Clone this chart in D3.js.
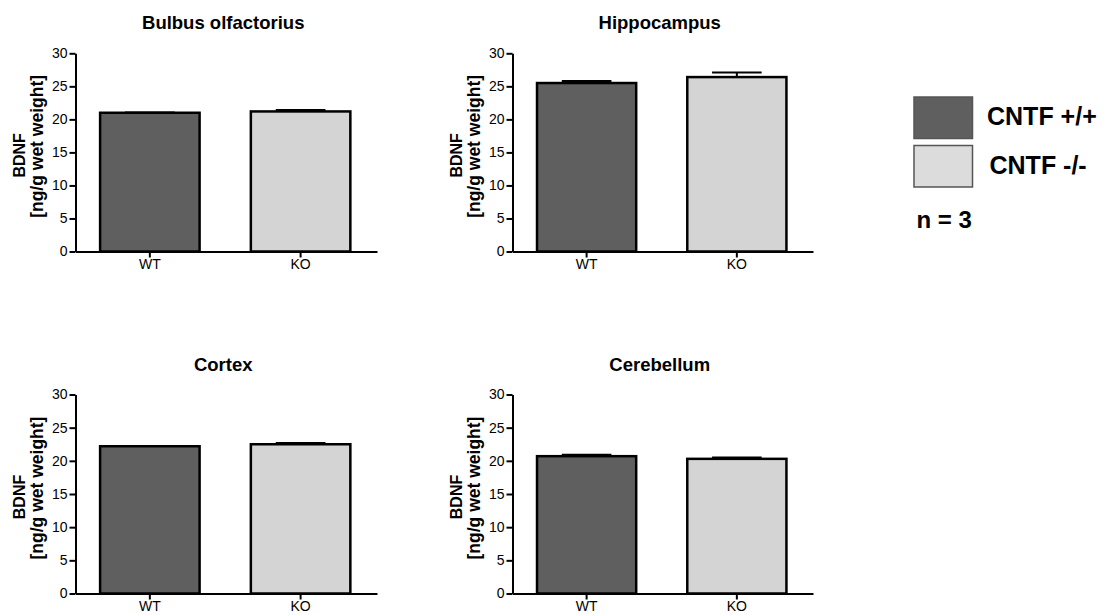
<!DOCTYPE html>
<html>
<head>
<meta charset="utf-8">
<script src="https://cdn.jsdelivr.net/npm/d3@7"></script>
<style>
  body { margin: 0; background: #fff; }
  svg text { font-family: "Liberation Sans", Arial, sans-serif; fill: #000; }
  .axis path, .axis line { stroke: #000; stroke-width: 2; }
  .axis text { font-size: 14px; }
  .title { font-size: 18.5px; font-weight: bold; text-anchor: middle; }
  .ylab { font-weight: bold; text-anchor: middle; }
</style>
</head>
<body>
<div id="chart"></div>
<script>
// brain regions, one panel each
const regions = ["Bulbus olfactorius", "Hippocampus", "Cortex", "Cerebellum"];
const genotypes = ["WT", "KO"];
// BDNF [ng/g wet weight], mean and SEM
const wtMean = [21.0, 25.5, 22.2, 20.7];
const wtSem  = [0.05, 0.3, 0.05, 0.2];
const koMean = [21.2, 26.4, 22.5, 20.3];
const koSem  = [0.2, 0.7, 0.2, 0.2];
const yTicks = [0, 5, 10, 15, 20, 25, 30];
const legendLabels = ["CNTF +/+", "CNTF -/-"];
const nLabel = "n = 3";

const colors = ["#5f5f5f", "#d4d4d4"];

const w = 1110, h = 615;
// where each panel's plot area sits
const panels = [
  { left: 75.5, right: 377, top: 53.3, bottom: 251.5, titleY: 29 },
  { left: 512.5, right: 813, top: 53.3, bottom: 251.5, titleY: 29 },
  { left: 75.5, right: 377, top: 394.5, bottom: 593.5, titleY: 370.5 },
  { left: 512.5, right: 813, top: 394.5, bottom: 593.5, titleY: 370.5 }
];

const svg = d3.select("#chart").append("svg")
  .attr("width", w)
  .attr("height", h);

regions.forEach(function(region, i) {
  const p = panels[i];
  const rows = genotypes.map(function(g, j) {
    return {
      g: g,
      mean: j === 0 ? wtMean[i] : koMean[i],
      sem: j === 0 ? wtSem[i] : koSem[i],
      color: colors[j]
    };
  });

  const x = d3.scaleBand()
    .domain(genotypes)
    .range([p.left, p.right])
    .paddingInner(0.34)
    .paddingOuter(0.17)
    .align(0.48);
  const y = d3.scaleLinear()
    .domain([0, 30])
    .range([p.bottom, p.top]);

  const g = svg.append("g");

  // title
  g.append("text")
    .attr("class", "title")
    .attr("x", (x("WT") + x("KO") + x.bandwidth()) / 2 - 2)
    .attr("y", p.titleY)
    .text(region);

  // bars
  g.selectAll(".bar")
    .data(rows)
    .enter()
    .append("rect")
      .attr("class", "bar")
      .attr("x", d => x(d.g))
      .attr("y", d => y(d.mean))
      .attr("width", x.bandwidth())
      .attr("height", d => y(0) - y(d.mean))
      .style("fill", d => d.color)
      .style("stroke", "#000")
      .style("stroke-width", 2.5);

  // error bars (upper SEM only)
  const eb = g.selectAll(".err")
    .data(rows)
    .enter()
    .append("g")
      .attr("class", "err");
  eb.append("line")
    .attr("x1", d => x(d.g) + x.bandwidth() / 2)
    .attr("x2", d => x(d.g) + x.bandwidth() / 2)
    .attr("y1", d => y(d.mean))
    .attr("y2", d => y(d.mean + d.sem))
    .style("stroke", "#000")
    .style("stroke-width", 2);
  eb.append("line")
    .attr("x1", d => x(d.g) + x.bandwidth() / 4)
    .attr("x2", d => x(d.g) + x.bandwidth() * 3 / 4)
    .attr("y1", d => y(d.mean + d.sem))
    .attr("y2", d => y(d.mean + d.sem))
    .style("stroke", "#000")
    .style("stroke-width", 2);

  // axes
  g.append("g")
    .attr("class", "axis")
    .attr("transform", "translate(0," + y(0) + ")")
    .call(d3.axisBottom(x).tickSize(6).tickSizeOuter(0).tickPadding(2));
  g.append("g")
    .attr("class", "axis")
    .attr("transform", "translate(" + p.left + ",0)")
    .call(d3.axisLeft(y).tickValues(yTicks).tickSize(6).tickSizeOuter(0).tickPadding(2));

  // y label, two lines
  const cy = (p.top + p.bottom) / 2;
  g.append("text")
    .attr("class", "ylab")
    .style("font-size", "16px")
    .attr("transform", "translate(" + (p.left - 50.5) + "," + (cy + 3) + ") rotate(-90)")
    .text("BDNF");
  g.append("text")
    .attr("class", "ylab")
    .style("font-size", "17.5px")
    .attr("transform", "translate(" + (p.left - 33) + "," + (cy - 6) + ") rotate(-90)")
    .text("[ng/g wet weight]");
});

// legend
const legend = svg.append("g").attr("transform", "translate(914,97)");
legend.selectAll("rect")
  .data(legendLabels)
  .enter()
  .append("rect")
    .attr("x", 0)
    .attr("y", (d, i) => i * 48.5)
    .attr("width", 58.5)
    .attr("height", 41.5)
    .style("fill", (d, i) => i === 0 ? "#5f5f5f" : "#dcdcdc")
    .style("stroke", "#555")
    .style("stroke-width", 1.5);
legend.selectAll("text.lg")
  .data(legendLabels)
  .enter()
  .append("text")
    .attr("class", "lg")
    .attr("x", (d, i) => 73 + i * 2.5)
    .attr("y", (d, i) => 28 + i * 49)
    .style("font-size", "25px")
    .style("font-weight", "bold")
    .text(d => d);
legend.append("text")
  .attr("x", 2.5)
  .attr("y", 131)
  .style("font-size", "24px")
  .style("font-weight", "bold")
  .text(nLabel);
</script>
</body>
</html>
